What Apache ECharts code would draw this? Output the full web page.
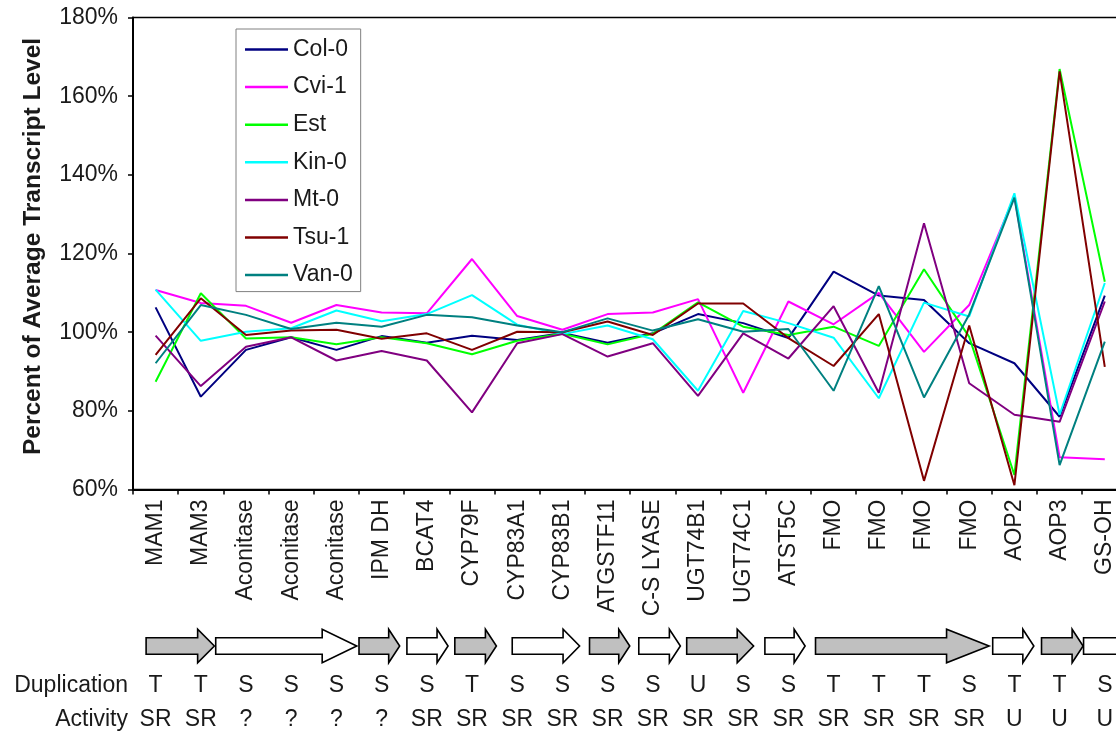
<!DOCTYPE html>
<html><head><meta charset="utf-8">
<script src="https://cdn.jsdelivr.net/npm/echarts@6/dist/echarts.min.js"></script>
<style>html,body{margin:0;padding:0;background:#fff}#c{width:1116px;height:733px}</style>
</head><body><div id="c"></div>
<script>
// ---- data ----
const categories = ['MAM1','MAM3','Aconitase','Aconitase','Aconitase','IPM DH','BCAT4','CYP79F','CYP83A1','CYP83B1','ATGSTF11','C-S LYASE','UGT74B1','UGT74C1','ATST5C','FMO','FMO','FMO','FMO','AOP2','AOP3','GS-OH'];
const duplication = ['T','T','S','S','S','S','S','T','S','S','S','S','U','S','S','T','T','T','S','T','T','S'];
const activity = ['SR','SR','?','?','?','?','SR','SR','SR','SR','SR','SR','SR','SR','SR','SR','SR','SR','SR','U','U','U'];
const seriesNames = ['Col-0','Cvi-1','Est','Kin-0','Mt-0','Tsu-1','Van-0'];
const col0 = [106.3, 83.6, 95.5, 98.7, 95.5, 99.0, 97.3, 99.1, 98.0, 99.8, 97.3, 99.7, 104.6, 102.3, 98.5, 115.4, 109.3, 108.2, 97.2, 92.1, 78.5, 109.3];
const cvi1 = [110.7, 107.4, 106.7, 102.4, 106.9, 105.0, 104.8, 118.6, 104.1, 100.6, 104.6, 105.0, 108.4, 84.6, 107.8, 102.0, 110.0, 95.0, 106.9, 134.5, 68.2, 67.7];
const est  = [87.4, 109.9, 98.4, 98.7, 96.9, 98.7, 97.2, 94.4, 97.8, 99.6, 96.9, 99.6, 107.6, 101.4, 99.3, 101.4, 96.5, 116.0, 98.8, 63.7, 166.9, 112.8];
const kin0 = [110.8, 97.8, 100.1, 101.0, 105.5, 102.8, 104.6, 109.4, 101.9, 99.5, 101.7, 98.2, 85.1, 105.4, 102.3, 98.6, 83.2, 107.5, 104.0, 135.3, 79.0, 112.5];
const mt0  = [99.1, 86.3, 96.3, 98.7, 92.8, 95.2, 92.8, 79.6, 97.2, 99.5, 93.8, 97.2, 83.8, 99.7, 93.3, 106.6, 84.6, 127.7, 87.0, 79.0, 77.2, 107.8];
const tsu1 = [94.2, 108.6, 99.3, 100.4, 100.6, 98.3, 99.7, 95.5, 100.1, 100.0, 102.7, 99.3, 107.3, 107.3, 98.5, 91.4, 104.6, 62.2, 101.7, 61.1, 166.3, 91.2];
const van0 = [92.1, 106.9, 104.4, 100.8, 102.4, 101.4, 104.4, 103.8, 101.7, 100.0, 103.5, 100.4, 103.3, 100.1, 100.8, 85.1, 111.7, 83.4, 104.5, 134.2, 66.2, 97.6];
// gene blocks: [start category index, end category index (fractional), shaded?]
const geneArrows = [
  [-0.21, 1.30, 1], [1.33, 4.45, 0], [4.50, 5.40, 1], [5.56, 6.47, 0], [6.62, 7.54, 1],
  [7.89, 9.38, 0], [9.60, 10.49, 1], [10.69, 11.61, 0], [11.75, 13.23, 1], [13.48, 14.37, 0],
  [14.60, 18.44, 1], [18.52, 19.43, 0], [19.60, 20.52, 1], [20.53, 21.60, 0]
];
const yMin = 60, yMax = 180, yStep = 20;

// ---- styles ----
const FONT = '"Liberation Sans", Arial, sans-serif';
const TXT = '#1a1a1a';
const colors = ['#000080','#ff00ff','#00ff00','#00ffff','#800080','#800000','#008080'];
const values = [col0, cvi1, est, kin0, mt0, tsu1, van0];

const chart = echarts.init(document.getElementById('c'), null, {renderer: 'canvas'});

const lineSeries = seriesNames.map((n, i) => ({
  name: n, type: 'line', data: values[i], symbol: 'none', showSymbol: false,
  xAxisIndex: 0, yAxisIndex: 0,
  lineStyle: {color: colors[i], width: 2}, itemStyle: {color: colors[i]},
  z: 3 + i, animation: false
}));

const arrowSeries = {
  type: 'custom', xAxisIndex: 0, yAxisIndex: 0, clip: false, silent: true, z: 2,
  data: geneArrows.map(a => [Math.max(0, Math.min(21, Math.round((a[0] + a[1]) / 2))), yMin, a[0], a[1], a[2]]),
  encode: {x: 0, y: 1},
  renderItem: function (params, api) {
    const s = api.value(2), e = api.value(3), shaded = api.value(4);
    // category axis rounds values: interpolate between category centres
    const c0 = api.coord([0, yMin]), c1 = api.coord([1, yMin]);
    const step = c1[0] - c0[0];
    const x0 = c0[0] + s * step, x1 = c0[0] + e * step;
    const yc = c0[1] + 156.5, bh = 8.2, hh = 16.8;
    const head = Math.max(11, 0.245 * (x1 - x0));
    const xh = x1 - head;
    return {
      type: 'polygon',
      shape: {points: [[x0, yc - bh], [xh, yc - bh], [xh, yc - hh], [x1, yc], [xh, yc + hh], [xh, yc + bh], [x0, yc + bh]]},
      style: {fill: shaded ? '#c0c0c0' : '#ffffff', stroke: '#000', lineWidth: 1.6}
    };
  }
};

const rowAxis = (data, name, offset) => ({
  type: 'category', data: data, gridIndex: 0, position: 'bottom', offset: offset,
  axisLine: {show: false}, axisTick: {show: false}, splitLine: {show: false},
  axisLabel: {interval: 0, margin: 0, verticalAlign: 'middle', fontSize: 23, color: TXT, fontFamily: FONT},
  name: name, nameLocation: 'start', nameGap: 5,
  nameTextStyle: {fontSize: 23, color: TXT, fontFamily: FONT, align: 'right', verticalAlign: 'middle'}
});

chart.setOption({
  animation: false,
  backgroundColor: '#fff',
  grid: {left: 133, top: 17.5, width: 994.4, height: 472, outerBoundsMode: 'none', containLabel: false,
    show: true, borderColor: '#000', borderWidth: 1.5, backgroundColor: 'transparent'},
  legend: {
    data: seriesNames, orient: 'vertical', left: 236, top: 29,
    padding: [9, 8, 5, 9], icon: 'rect', itemWidth: 43, itemHeight: 2.5, itemGap: 14.6,
    borderColor: '#808080', borderWidth: 1, backgroundColor: '#fff',
    textStyle: {fontSize: 23, color: TXT, fontFamily: FONT, lineHeight: 23},
    selectedMode: false
  },
  xAxis: [
    {
      type: 'category', data: categories, gridIndex: 0, position: 'bottom', boundaryGap: true,
      axisLine: {show: true, lineStyle: {color: '#000', width: 2}},
      axisTick: {show: true, length: 5, inside: false, alignWithLabel: false, lineStyle: {color: '#000', width: 1.5}},
      axisLabel: {rotate: 90, interval: 0, margin: 10, fontSize: 23, color: TXT, fontFamily: FONT},
      splitLine: {show: false}
    },
    rowAxis(duplication, 'Duplication', 196.5),
    rowAxis(activity, 'Activity', 230)
  ],
  yAxis: {
    type: 'value', min: yMin, max: yMax, interval: yStep,
    axisLine: {show: true, lineStyle: {color: '#000', width: 2}},
    axisTick: {show: true, length: 5, inside: false, lineStyle: {color: '#000', width: 1.5}},
    axisLabel: {formatter: '{value}%', margin: 15, fontSize: 23, color: TXT, fontFamily: FONT},
    splitLine: {show: false}
  },
  graphic: [{
    type: 'text', x: 33.5, y: 246.5, rotation: Math.PI / 2, silent: true,
    style: {text: 'Percent of Average Transcript Level', font: 'bold 24.5px ' + FONT, fill: TXT,
      align: 'center', verticalAlign: 'middle', textAlign: 'center', textVerticalAlign: 'middle'}
  }],
  series: [arrowSeries].concat(lineSeries)
});
</script></body></html>
